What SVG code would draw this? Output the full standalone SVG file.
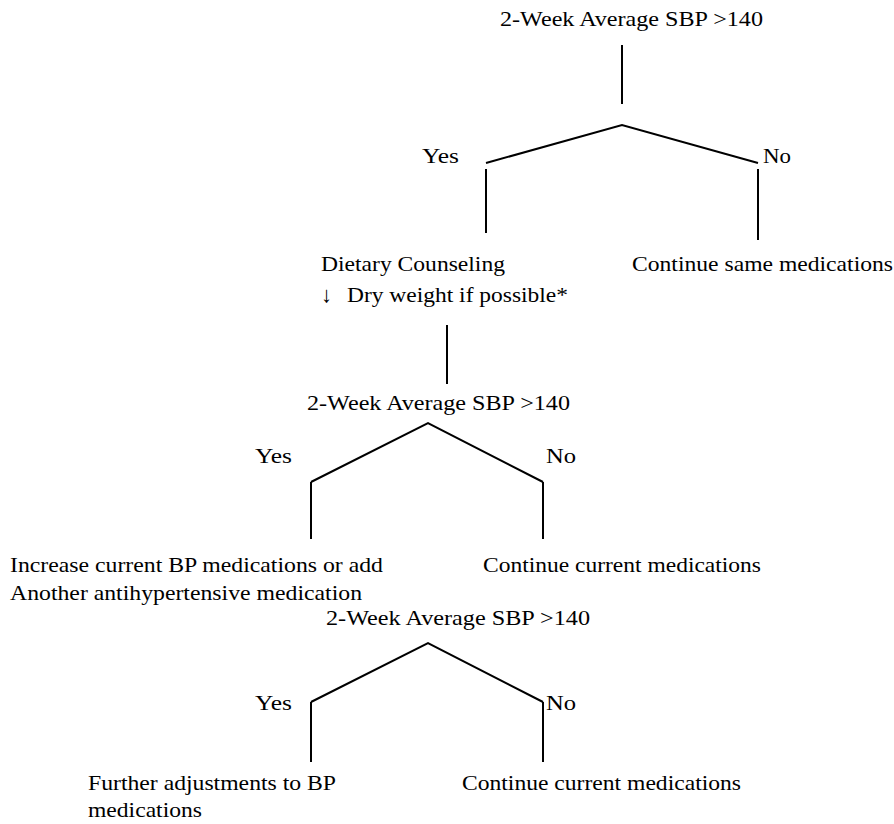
<svg xmlns="http://www.w3.org/2000/svg" width="894" height="824" viewBox="0 0 894 824">
<defs>
<style>
.c line,.c polyline{stroke:#000;stroke-width:2;fill:none}
</style>
</defs>
<rect width="894" height="824" fill="#fff"/>
<g class="c" id="connectors">
<line x1="622" y1="45" x2="622" y2="104"/>
<polyline points="486,163 622,125 758,163"/>
<line x1="486" y1="169" x2="486" y2="233"/>
<line x1="758" y1="169" x2="758" y2="240"/>
<line x1="447" y1="325" x2="447" y2="384"/>
<polyline points="311,482 428,423 543,482"/>
<line x1="311" y1="482" x2="311" y2="539"/>
<line x1="543" y1="482" x2="543" y2="539"/>
<polyline points="311,702 428,643 543,702"/>
<line x1="311" y1="702" x2="311" y2="762"/>
<line x1="543" y1="702" x2="543" y2="762"/>
</g>
<g font-family="Liberation Serif" font-size="22" fill="#000">
<g id="q1"><text x="500" y="26" textLength="263" lengthAdjust="spacingAndGlyphs">2-Week Average SBP &gt;140</text></g>
<g id="yes1"><text x="422" y="163" textLength="37" lengthAdjust="spacingAndGlyphs">Yes</text></g>
<g id="no1"><text x="763" y="163" textLength="28" lengthAdjust="spacingAndGlyphs">No</text></g>
<g id="diet"><text x="321" y="271" textLength="184" lengthAdjust="spacingAndGlyphs">Dietary Counseling</text>
<text x="321" y="302">&#8595;</text>
<text x="347" y="302" textLength="221" lengthAdjust="spacingAndGlyphs">Dry weight if possible*</text></g>
<g id="cont1"><text x="632" y="271" textLength="261" lengthAdjust="spacingAndGlyphs">Continue same medications</text></g>
<g id="q2"><text x="307" y="410" textLength="263" lengthAdjust="spacingAndGlyphs">2-Week Average SBP &gt;140</text></g>
</g>
<g font-family="Liberation Serif" font-size="21" fill="#000">
<g id="yes2"><text x="255" y="463" textLength="37" lengthAdjust="spacingAndGlyphs">Yes</text></g>
<g id="no2"><text x="546" y="463" textLength="30" lengthAdjust="spacingAndGlyphs">No</text></g>
<g id="increase"><text x="10" y="572" textLength="373" lengthAdjust="spacingAndGlyphs">Increase current BP medications or add</text>
<text x="10" y="600" textLength="352" lengthAdjust="spacingAndGlyphs">Another antihypertensive medication</text></g>
<g id="cont2"><text x="483" y="572" textLength="278" lengthAdjust="spacingAndGlyphs">Continue current medications</text></g>
<g id="q3"><text x="326" y="625" textLength="264" lengthAdjust="spacingAndGlyphs">2-Week Average SBP &gt;140</text></g>
<g id="yes3"><text x="255" y="710" textLength="37" lengthAdjust="spacingAndGlyphs">Yes</text></g>
<g id="no3"><text x="546" y="710" textLength="30" lengthAdjust="spacingAndGlyphs">No</text></g>
<g id="further"><text x="88" y="790" textLength="248" lengthAdjust="spacingAndGlyphs">Further adjustments to BP</text>
<text x="88" y="817" textLength="114" lengthAdjust="spacingAndGlyphs">medications</text></g>
<g id="cont3"><text x="462" y="790" textLength="279" lengthAdjust="spacingAndGlyphs">Continue current medications</text></g>
</g>
</svg>
